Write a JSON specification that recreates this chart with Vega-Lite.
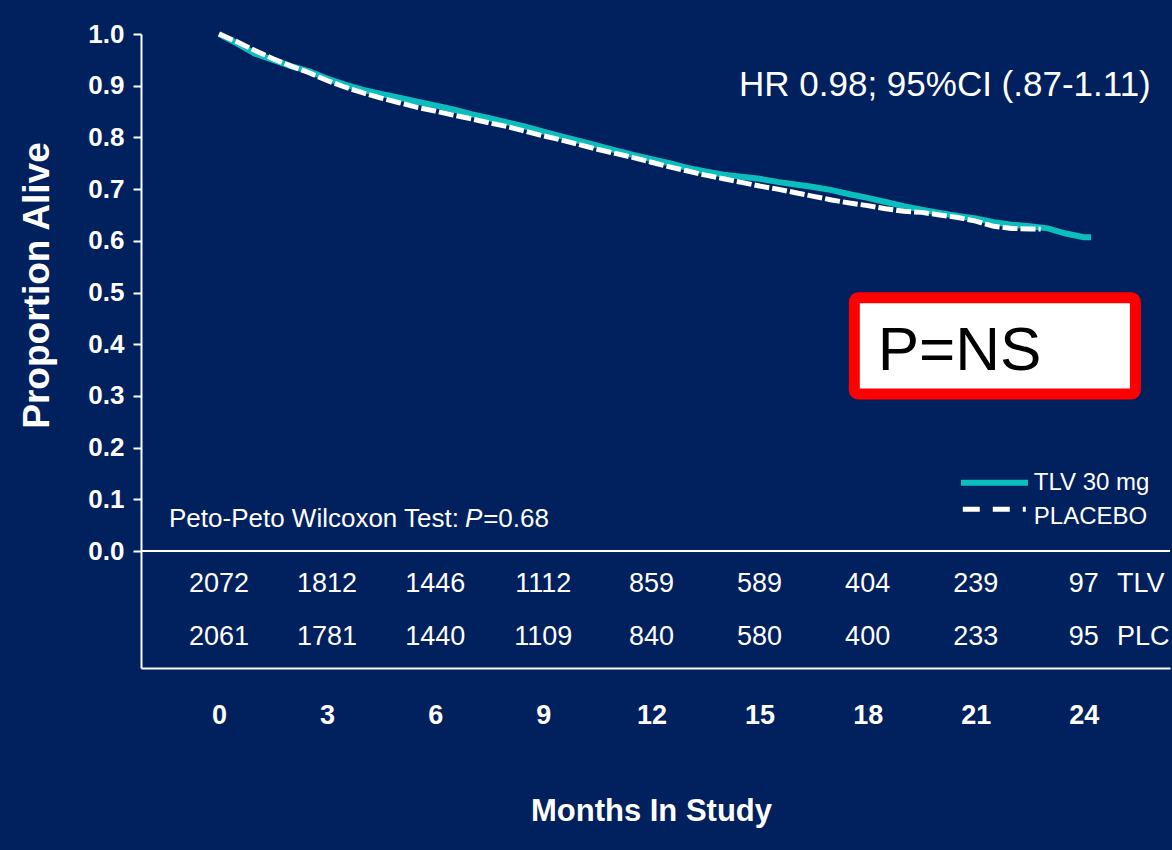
{
  "$schema": "https://vega.github.io/schema/vega-lite/v6.json",
  "autosize": {"type": "none"},
  "padding": {"left": 141, "top": 34, "right": 2, "bottom": 182},
  "width": 1029,
  "height": 634,
  "background": "#00205E",
  "config": {
    "view": {"stroke": null},
    "font": "Liberation Sans, Arial, sans-serif",
    "text": {"color": "white", "font": "Liberation Sans, Arial, sans-serif"}
  },
  "data": {"values": [{}]},
  "datasets": {
    "curves": [
      {"month": 0, "value": 1.0, "arm": "TLV 30 mg"},
      {"month": 0.5, "value": 0.982, "arm": "TLV 30 mg"},
      {"month": 1.0, "value": 0.962, "arm": "TLV 30 mg"},
      {"month": 1.5, "value": 0.95, "arm": "TLV 30 mg"},
      {"month": 2.0, "value": 0.938, "arm": "TLV 30 mg"},
      {"month": 2.5, "value": 0.928, "arm": "TLV 30 mg"},
      {"month": 3.0, "value": 0.914, "arm": "TLV 30 mg"},
      {"month": 3.5, "value": 0.902, "arm": "TLV 30 mg"},
      {"month": 4.0, "value": 0.892, "arm": "TLV 30 mg"},
      {"month": 4.5, "value": 0.884, "arm": "TLV 30 mg"},
      {"month": 5.0, "value": 0.877, "arm": "TLV 30 mg"},
      {"month": 5.5, "value": 0.869, "arm": "TLV 30 mg"},
      {"month": 6.0, "value": 0.862, "arm": "TLV 30 mg"},
      {"month": 6.5, "value": 0.854, "arm": "TLV 30 mg"},
      {"month": 7.0, "value": 0.845, "arm": "TLV 30 mg"},
      {"month": 7.5, "value": 0.837, "arm": "TLV 30 mg"},
      {"month": 8.0, "value": 0.829, "arm": "TLV 30 mg"},
      {"month": 8.5, "value": 0.821, "arm": "TLV 30 mg"},
      {"month": 9.0, "value": 0.811, "arm": "TLV 30 mg"},
      {"month": 9.5, "value": 0.802, "arm": "TLV 30 mg"},
      {"month": 10.0, "value": 0.793, "arm": "TLV 30 mg"},
      {"month": 10.5, "value": 0.784, "arm": "TLV 30 mg"},
      {"month": 11.0, "value": 0.775, "arm": "TLV 30 mg"},
      {"month": 11.5, "value": 0.766, "arm": "TLV 30 mg"},
      {"month": 12.0, "value": 0.758, "arm": "TLV 30 mg"},
      {"month": 12.5, "value": 0.75, "arm": "TLV 30 mg"},
      {"month": 13.0, "value": 0.741, "arm": "TLV 30 mg"},
      {"month": 13.5, "value": 0.734, "arm": "TLV 30 mg"},
      {"month": 14.0, "value": 0.728, "arm": "TLV 30 mg"},
      {"month": 14.5, "value": 0.724, "arm": "TLV 30 mg"},
      {"month": 15.0, "value": 0.72, "arm": "TLV 30 mg"},
      {"month": 15.5, "value": 0.714, "arm": "TLV 30 mg"},
      {"month": 16.0, "value": 0.709, "arm": "TLV 30 mg"},
      {"month": 16.5, "value": 0.704, "arm": "TLV 30 mg"},
      {"month": 17.0, "value": 0.698, "arm": "TLV 30 mg"},
      {"month": 17.5, "value": 0.69, "arm": "TLV 30 mg"},
      {"month": 18.0, "value": 0.683, "arm": "TLV 30 mg"},
      {"month": 18.5, "value": 0.675, "arm": "TLV 30 mg"},
      {"month": 19.0, "value": 0.667, "arm": "TLV 30 mg"},
      {"month": 19.5, "value": 0.66, "arm": "TLV 30 mg"},
      {"month": 20.0, "value": 0.654, "arm": "TLV 30 mg"},
      {"month": 20.5, "value": 0.648, "arm": "TLV 30 mg"},
      {"month": 21.0, "value": 0.643, "arm": "TLV 30 mg"},
      {"month": 21.5, "value": 0.636, "arm": "TLV 30 mg"},
      {"month": 22.0, "value": 0.631, "arm": "TLV 30 mg"},
      {"month": 22.5, "value": 0.628, "arm": "TLV 30 mg"},
      {"month": 23.0, "value": 0.624, "arm": "TLV 30 mg"},
      {"month": 23.5, "value": 0.614, "arm": "TLV 30 mg"},
      {"month": 24.0, "value": 0.607, "arm": "TLV 30 mg"},
      {"month": 24.2, "value": 0.607, "arm": "TLV 30 mg"},
      {"month": 0, "value": 1.0, "arm": "PLACEBO"},
      {"month": 0.5, "value": 0.985, "arm": "PLACEBO"},
      {"month": 1.0, "value": 0.968, "arm": "PLACEBO"},
      {"month": 1.5, "value": 0.952, "arm": "PLACEBO"},
      {"month": 2.0, "value": 0.938, "arm": "PLACEBO"},
      {"month": 2.5, "value": 0.925, "arm": "PLACEBO"},
      {"month": 3.0, "value": 0.91, "arm": "PLACEBO"},
      {"month": 3.5, "value": 0.897, "arm": "PLACEBO"},
      {"month": 4.0, "value": 0.886, "arm": "PLACEBO"},
      {"month": 4.5, "value": 0.876, "arm": "PLACEBO"},
      {"month": 5.0, "value": 0.867, "arm": "PLACEBO"},
      {"month": 5.5, "value": 0.858, "arm": "PLACEBO"},
      {"month": 6.0, "value": 0.851, "arm": "PLACEBO"},
      {"month": 6.5, "value": 0.843, "arm": "PLACEBO"},
      {"month": 7.0, "value": 0.836, "arm": "PLACEBO"},
      {"month": 7.5, "value": 0.828, "arm": "PLACEBO"},
      {"month": 8.0, "value": 0.821, "arm": "PLACEBO"},
      {"month": 8.5, "value": 0.812, "arm": "PLACEBO"},
      {"month": 9.0, "value": 0.803, "arm": "PLACEBO"},
      {"month": 9.5, "value": 0.795, "arm": "PLACEBO"},
      {"month": 10.0, "value": 0.786, "arm": "PLACEBO"},
      {"month": 10.5, "value": 0.777, "arm": "PLACEBO"},
      {"month": 11.0, "value": 0.769, "arm": "PLACEBO"},
      {"month": 11.5, "value": 0.761, "arm": "PLACEBO"},
      {"month": 12.0, "value": 0.752, "arm": "PLACEBO"},
      {"month": 12.5, "value": 0.743, "arm": "PLACEBO"},
      {"month": 13.0, "value": 0.735, "arm": "PLACEBO"},
      {"month": 13.5, "value": 0.727, "arm": "PLACEBO"},
      {"month": 14.0, "value": 0.72, "arm": "PLACEBO"},
      {"month": 14.5, "value": 0.713, "arm": "PLACEBO"},
      {"month": 15.0, "value": 0.706, "arm": "PLACEBO"},
      {"month": 15.5, "value": 0.7, "arm": "PLACEBO"},
      {"month": 16.0, "value": 0.693, "arm": "PLACEBO"},
      {"month": 16.5, "value": 0.686, "arm": "PLACEBO"},
      {"month": 17.0, "value": 0.679, "arm": "PLACEBO"},
      {"month": 17.5, "value": 0.673, "arm": "PLACEBO"},
      {"month": 18.0, "value": 0.668, "arm": "PLACEBO"},
      {"month": 18.5, "value": 0.662, "arm": "PLACEBO"},
      {"month": 19.0, "value": 0.657, "arm": "PLACEBO"},
      {"month": 19.5, "value": 0.655, "arm": "PLACEBO"},
      {"month": 20.0, "value": 0.65, "arm": "PLACEBO"},
      {"month": 20.5, "value": 0.645, "arm": "PLACEBO"},
      {"month": 21.0, "value": 0.638, "arm": "PLACEBO"},
      {"month": 21.5, "value": 0.628, "arm": "PLACEBO"},
      {"month": 22.0, "value": 0.624, "arm": "PLACEBO"},
      {"month": 22.5, "value": 0.623, "arm": "PLACEBO"},
      {"month": 22.8, "value": 0.623, "arm": "PLACEBO"}
    ],
    "risk": [
      {"month": 0, "tlv": 2072, "plc": 2061},
      {"month": 3, "tlv": 1812, "plc": 1781},
      {"month": 6, "tlv": 1446, "plc": 1440},
      {"month": 9, "tlv": 1112, "plc": 1109},
      {"month": 12, "tlv": 859, "plc": 840},
      {"month": 15, "tlv": 589, "plc": 580},
      {"month": 18, "tlv": 404, "plc": 400},
      {"month": 21, "tlv": 239, "plc": 233},
      {"month": 24, "tlv": 97, "plc": 95}
    ]
  },
  "layer": [
    {
      "data": {"name": "curves"},
      "transform": [{"filter": "datum.arm === 'TLV 30 mg'"}],
      "mark": {"type": "line", "interpolate": "linear", "color": "#0BBDBD", "strokeWidth": 6},
      "encoding": {
        "x": {
          "field": "month", "type": "quantitative",
          "scale": {"domain": [-2.164, 26.39], "nice": false, "zero": false},
          "axis": {
            "values": [0, 3, 6, 9, 12, 15, 18, 21, 24],
            "grid": false, "ticks": false,
            "domainColor": "white", "domainWidth": 2,
            "labelColor": "white", "labelFontSize": 27, "labelFontWeight": "bold",
            "labelPadding": 34,
            "title": "Months In Study",
            "titleColor": "white", "titleFontSize": 31, "titleFontWeight": "bold",
            "titleBaseline": "alphabetic", "titleY": 152, "titleX": 510
          }
        },
        "y": {
          "field": "value", "type": "quantitative",
          "scale": {"domain": [-0.2263, 1.0], "nice": false, "zero": false},
          "axis": {
            "values": [0, 0.1, 0.2, 0.3, 0.4, 0.5, 0.6, 0.7, 0.8, 0.9, 1.0],
            "format": ".1f",
            "grid": false,
            "domainColor": "white", "domainWidth": 2,
            "tickColor": "white", "tickWidth": 2, "tickSize": 8,
            "labelColor": "white", "labelFontSize": 26, "labelFontWeight": "bold",
            "labelPadding": 9,
            "title": "Proportion Alive",
            "titleColor": "white", "titleFontSize": 37, "titleFontWeight": "bold",
            "titleAngle": -90, "titleAlign": "center", "titleBaseline": "middle",
            "titleX": -104, "titleY": 251
          }
        }
      }
    },
    {
      "data": {"name": "curves"},
      "transform": [{"filter": "datum.arm === 'PLACEBO'"}],
      "mark": {"type": "line", "interpolate": "linear", "color": "white", "strokeWidth": 5, "strokeDash": [15, 3]},
      "encoding": {
        "x": {"field": "month", "type": "quantitative"},
        "y": {"field": "value", "type": "quantitative"}
      }
    },
    {
      "mark": {"type": "rule", "color": "white", "strokeWidth": 2},
      "encoding": {"y": {"datum": 0, "type": "quantitative"}}
    },
    {
      "data": {"name": "risk"},
      "mark": {"type": "text", "fontSize": 27, "align": "center", "baseline": "middle"},
      "encoding": {
        "x": {"field": "month", "type": "quantitative"},
        "y": {"datum": -0.0644, "type": "quantitative"},
        "text": {"field": "tlv", "type": "nominal"}
      }
    },
    {
      "data": {"name": "risk"},
      "mark": {"type": "text", "fontSize": 27, "align": "center", "baseline": "middle"},
      "encoding": {
        "x": {"field": "month", "type": "quantitative"},
        "y": {"datum": -0.1663, "type": "quantitative"},
        "text": {"field": "plc", "type": "nominal"}
      }
    },
    {
      "mark": {"type": "text", "text": "TLV", "fontSize": 27, "align": "left", "baseline": "middle"},
      "encoding": {
        "x": {"datum": 24.92, "type": "quantitative"},
        "y": {"datum": -0.0644, "type": "quantitative"}
      }
    },
    {
      "mark": {"type": "text", "text": "PLC", "fontSize": 27, "align": "left", "baseline": "middle"},
      "encoding": {
        "x": {"datum": 24.92, "type": "quantitative"},
        "y": {"datum": -0.1663, "type": "quantitative"}
      }
    },
    {
      "mark": {"type": "text", "text": "HR 0.98; 95%CI (.87-1.11)", "fontSize": 35, "align": "left", "baseline": "alphabetic"},
      "encoding": {
        "x": {"datum": 14.43, "type": "quantitative"},
        "y": {"datum": 0.88, "type": "quantitative"}
      }
    },
    {
      "mark": {"type": "text", "text": "Peto-Peto  Wilcoxon Test:", "fontSize": 26, "align": "right", "baseline": "alphabetic"},
      "encoding": {
        "x": {"datum": 6.66, "type": "quantitative"},
        "y": {"datum": 0.0464, "type": "quantitative"}
      }
    },
    {
      "mark": {"type": "text", "text": "P", "fontSize": 26, "fontStyle": "italic", "align": "left", "baseline": "alphabetic"},
      "encoding": {
        "x": {"datum": 6.83, "type": "quantitative"},
        "y": {"datum": 0.0464, "type": "quantitative"}
      }
    },
    {
      "mark": {"type": "text", "text": "=0.68", "fontSize": 26, "align": "left", "baseline": "alphabetic"},
      "encoding": {
        "x": {"datum": 7.33, "type": "quantitative"},
        "y": {"datum": 0.0464, "type": "quantitative"}
      }
    },
    {
      "mark": {"type": "rect", "fill": "white", "stroke": "#FF0000", "strokeWidth": 11, "cornerRadius": 4},
      "encoding": {
        "x": {"datum": 17.63, "type": "quantitative"},
        "x2": {"datum": 25.43},
        "y": {"datum": 0.4898, "type": "quantitative"},
        "y2": {"datum": 0.3037}
      }
    },
    {
      "mark": {"type": "text", "text": "P=NS", "fontSize": 62, "color": "black", "align": "left", "baseline": "alphabetic"},
      "encoding": {
        "x": {"datum": 18.28, "type": "quantitative"},
        "y": {"datum": 0.35, "type": "quantitative"}
      }
    },
    {
      "mark": {"type": "rule", "color": "#0BBDBD", "strokeWidth": 6},
      "encoding": {
        "x": {"datum": 20.59, "type": "quantitative"},
        "x2": {"datum": 22.45},
        "y": {"datum": 0.132, "type": "quantitative"}
      }
    },
    {
      "mark": {"type": "rule", "color": "white", "strokeWidth": 5, "strokeDash": [17, 13, 17, 13, 3, 100]},
      "encoding": {
        "x": {"datum": 20.64, "type": "quantitative"},
        "x2": {"datum": 22.39},
        "y": {"datum": 0.081, "type": "quantitative"}
      }
    },
    {
      "mark": {"type": "text", "text": "TLV 30 mg", "fontSize": 24, "align": "left", "baseline": "alphabetic"},
      "encoding": {
        "x": {"datum": 22.61, "type": "quantitative"},
        "y": {"datum": 0.118, "type": "quantitative"}
      }
    },
    {
      "mark": {"type": "text", "text": "PLACEBO", "fontSize": 24, "align": "left", "baseline": "alphabetic"},
      "encoding": {
        "x": {"datum": 22.61, "type": "quantitative"},
        "y": {"datum": 0.052, "type": "quantitative"}
      }
    }
  ]
}
